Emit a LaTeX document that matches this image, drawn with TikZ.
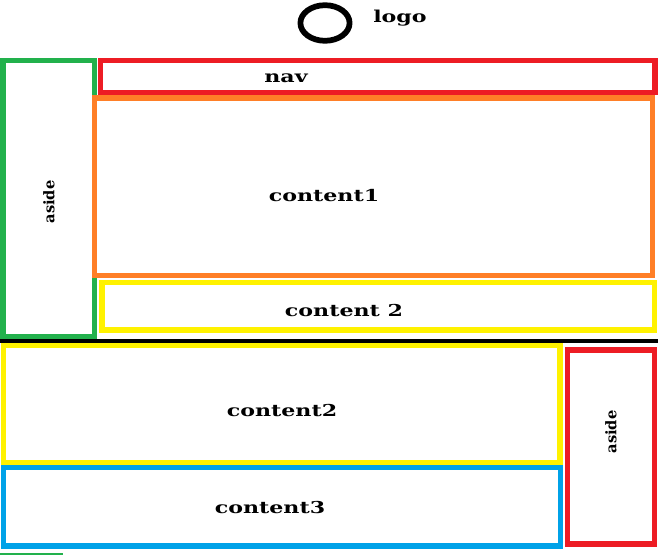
\documentclass[tikz,border=0pt]{standalone}
\usepackage{fontspec}
\usepackage{graphicx}
\newfontfamily\lblfont{DejaVu Serif}
\definecolor{pgreen}{RGB}{34,177,76}
\definecolor{pred}{RGB}{237,28,36}
\definecolor{porange}{RGB}{255,127,39}
\definecolor{pyellow}{RGB}{255,242,0}
\definecolor{pblue}{RGB}{0,162,232}
\tikzset{
  frame/.style={line width=4.2pt},
  lbl/.style={inner sep=0pt, font=\lblfont\bfseries\fontsize{12.3}{14}\selectfont},
  sidelbl/.style={inner sep=0pt, rotate=90, font=\lblfont\bfseries\fontsize{11}{13}\selectfont},
}
\newcommand{\wide}[1]{\scalebox{1.35}[1]{#1}}
\begin{document}
\begin{tikzpicture}[x=0.75pt,y=-0.75pt]
\useasboundingbox (0,0) rectangle (658,555);
% logo
\draw[line width=4.3pt] (325,23) ellipse [x radius=24.6, y radius=17.8];
\node[lbl] (logo) at (400,18) {\wide{logo}};
% upper layout
\draw[frame, pgreen] (2.8,60.5) rectangle (94.3,336.5);
\draw[frame, pred] (100.5,60.5) rectangle (654.8,92.5);
\draw[frame, porange] (94.5,98.2) rectangle (652.5,275.5);
\draw[frame, pyellow] (102,282.5) rectangle (654.5,330.2);
\node[sidelbl] (asideL) at (49,202) {aside};
\node[lbl] (nav) at (286,78) {\wide{nav}};
\node[lbl] (c1) at (324,196) {\wide{content1}};
\node[lbl] (c2top) at (344,311) {\wide{content 2}};
% separator
\draw[line width=3.3pt] (0,341.2) -- (658,341.2);
% lower layout
\draw[frame, pyellow] (3.5,345.5) rectangle (560,462.8);
\draw[frame, pblue] (3.5,467.5) rectangle (560.5,546);
\draw[frame, pred] (567.5,350.2) rectangle (654.5,544.2);
\node[lbl] (c2) at (282,411) {\wide{content2}};
\node[lbl] (c3) at (270,507.5) {\wide{content3}};
\node[sidelbl] (asideR) at (611,432) {aside};
% bottom green stroke
\draw[pgreen, line width=2pt] (0,554.5) -- (63,554.5);
\end{tikzpicture}
\end{document}
